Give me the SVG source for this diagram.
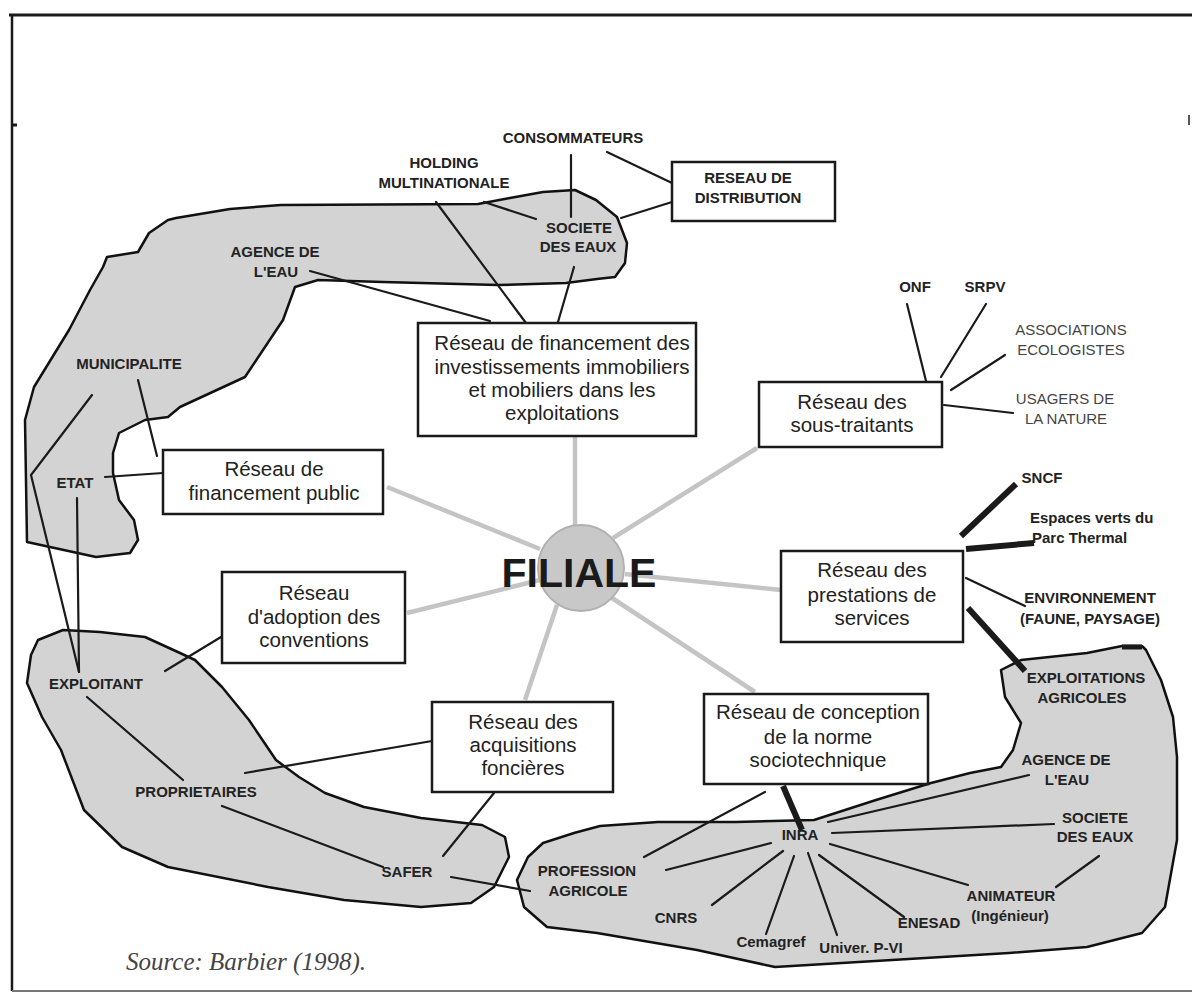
<svg xmlns="http://www.w3.org/2000/svg" width="1192" height="996" viewBox="0 0 1192 996">
<style>
.blob{fill:#d3d3d3;stroke:#111;stroke-width:2.5;stroke-linejoin:round}
.box{fill:#fff;stroke:#1a1a1a;stroke-width:2.5}
.ln{stroke:#1a1a1a;stroke-width:2.2;stroke-linecap:round;fill:none}
.thick{stroke:#1a1a1a;stroke-width:6;fill:none}
.spoke{stroke:#c4c4c4;stroke-width:4.5;fill:none}
.bt{font-family:"Liberation Sans",Arial,sans-serif;font-size:20.5px;fill:#222;text-anchor:middle}
.lb{font-family:"Liberation Sans",Arial,sans-serif;font-size:15px;font-weight:bold;fill:#222;text-anchor:middle}
.ls{font-family:"Liberation Sans",Arial,sans-serif;font-size:15px;font-weight:bold;fill:#222;text-anchor:start}
.lt{font-family:"Liberation Sans",Arial,sans-serif;font-size:15px;fill:#444;text-anchor:middle}
</style>
<rect width="1192" height="996" fill="#fff"/>
<g id="frame" fill="none" stroke="#1a1a1a">
<line x1="9" y1="15" x2="1192" y2="15" stroke-width="3"/>
<line x1="12" y1="15" x2="12" y2="991" stroke-width="2.5"/>
<line x1="12" y1="991" x2="1192" y2="991" stroke="#777" stroke-width="2"/>
<line x1="12" y1="125" x2="17" y2="125" stroke-width="3"/>
<line x1="1189" y1="115" x2="1189" y2="125" stroke="#555" stroke-width="2"/>
</g>
<g id="zones">
<path class="blob" d="M168,220 L176,218 L230,209 L281,205 L478,204 L510,198 L543,192 L575,190 L596,200 L617,217 L627,243 L625,263 L615,277 L597,279 L566,283 L498,285 L383,282 L318,280 L295,287 L283,320 L245,377 L180,407 L168,417 L145,420 L119,433 L113,453 L113,473 L119,500 L134,520 L138,540 L130,553 L96,557 L27,542 L25,420 L34,387 L69,330 L90,290 L103,267 L107,257 L138,252 L149,233 Z"/>
<path class="blob" d="M38,640 L63,630 L100,632 L145,637 L180,653 L195,660 L222,687 L249,720 L276,760 L299,777 L325,793 L364,807 L421,818 L482,825 L505,837 L509,857 L494,887 L471,903 L421,907 L344,900 L268,887 L168,867 L122,847 L84,810 L61,750 L42,717 L27,683 L31,655 Z"/>
<path class="blob" d="M517,880 L528,857 L543,843 L574,833 L600,826 L658,822 L736,822 L814,820 L876,800 L931,783 L970,773 L1001,767 L1013,750 L1021,723 L1005,697 L1001,670 L1021,660 L1087,653 L1122,646 L1142,646 L1146,650 L1161,680 L1173,717 L1177,757 L1177,840 L1165,907 L1142,933 L1087,947 L1009,953 L892,960 L775,967 L697,950 L597,933 L547,927 L524,907 Z"/>
<line x1="1122" y1="647" x2="1142" y2="647" stroke="#1a1a1a" stroke-width="5"/>
</g>
<g id="connectors">
<line class="spoke" x1="575" y1="437" x2="575" y2="527"/>
<line class="spoke" x1="387" y1="487" x2="540" y2="549"/>
<line class="spoke" x1="757" y1="448" x2="613" y2="538"/>
<line class="spoke" x1="625" y1="574" x2="781" y2="590"/>
<line class="spoke" x1="407" y1="613" x2="540" y2="580"/>
<line class="spoke" x1="557" y1="605" x2="525" y2="700"/>
<line class="spoke" x1="612" y1="598" x2="755" y2="692"/>
<line class="ln" x1="571" y1="155" x2="571" y2="217"/>
<line class="ln" x1="607" y1="152" x2="672" y2="183"/>
<line class="ln" x1="621" y1="218" x2="672" y2="202"/>
<line class="ln" x1="484" y1="202" x2="536" y2="219"/>
<line class="ln" x1="436" y1="202" x2="526" y2="323"/>
<line class="ln" x1="574" y1="267" x2="558" y2="322"/>
<line class="ln" x1="310" y1="271" x2="490" y2="321"/>
<line class="ln" x1="907" y1="304" x2="926" y2="381"/>
<line class="ln" x1="986" y1="304" x2="941" y2="377"/>
<line class="ln" x1="951" y1="390" x2="1005" y2="355"/>
<line class="ln" x1="944" y1="405" x2="1013" y2="413"/>
<line class="thick" x1="1016" y1="484" x2="961" y2="536"/>
<line class="thick" x1="966" y1="549" x2="1034" y2="543" stroke-width="5"/>
<line class="ln" x1="966" y1="578" x2="1025" y2="606"/>
<line class="thick" x1="968" y1="608" x2="1025" y2="671"/>
<line class="thick" x1="783" y1="786" x2="802" y2="830" stroke-width="5"/>
<line class="ln" x1="765" y1="792" x2="644" y2="857"/>
<line class="ln" x1="828" y1="822" x2="1029" y2="775"/>
<line class="ln" x1="832" y1="833" x2="1054" y2="824"/>
<line class="ln" x1="830" y1="844" x2="968" y2="885"/>
<line class="ln" x1="1056" y1="887" x2="1099" y2="856"/>
<line class="ln" x1="771" y1="843" x2="666" y2="870"/>
<line class="ln" x1="783" y1="851" x2="712" y2="905"/>
<line class="ln" x1="794" y1="856" x2="766" y2="934"/>
<line class="ln" x1="808" y1="853" x2="837" y2="935"/>
<line class="ln" x1="819" y1="855" x2="904" y2="917"/>
<line class="ln" x1="138" y1="380" x2="157" y2="456"/>
<polyline class="ln" points="92,395 31,475 79,672"/>
<line class="ln" x1="77" y1="498" x2="79" y2="672"/>
<line class="ln" x1="105" y1="477" x2="163" y2="473"/>
<line class="ln" x1="221" y1="637" x2="165" y2="671"/>
<line class="ln" x1="87" y1="697" x2="183" y2="780"/>
<line class="ln" x1="245" y1="773" x2="432" y2="741"/>
<line class="ln" x1="222" y1="806" x2="383" y2="867"/>
<line class="ln" x1="494" y1="793" x2="443" y2="856"/>
<line class="ln" x1="451" y1="877" x2="530" y2="891"/>
</g>
<g id="distribution">
<rect class="box" x="672" y="162" width="163" height="59"/>
<text class="lb" x="748" y="183">RESEAU DE</text>
<text class="lb" x="748" y="203">DISTRIBUTION</text>
</g>
<g id="financement-investissements">
<rect class="box" x="418" y="323" width="278" height="113"/>
<text class="bt" x="562" y="350">Réseau de financement des</text>
<text class="bt" x="562" y="374">investissements immobiliers</text>
<text class="bt" x="562" y="397">et mobiliers dans les</text>
<text class="bt" x="562" y="420">exploitations</text>
</g>
<g id="financement-public">
<rect class="box" x="163" y="450" width="220" height="64"/>
<text class="bt" x="274" y="476">Réseau de</text>
<text class="bt" x="274" y="500">financement public</text>
</g>
<g id="adoption">
<rect class="box" x="222" y="572" width="183" height="91"/>
<text class="bt" x="314" y="600">Réseau</text>
<text class="bt" x="314" y="624">d'adoption des</text>
<text class="bt" x="314" y="647">conventions</text>
</g>
<g id="acquisitions">
<rect class="box" x="432" y="702" width="181" height="90"/>
<text class="bt" x="523" y="729">Réseau des</text>
<text class="bt" x="523" y="752">acquisitions</text>
<text class="bt" x="523" y="775">foncières</text>
</g>
<g id="sous-traitants">
<rect class="box" x="759" y="382" width="183" height="65"/>
<text class="bt" x="852" y="409">Réseau des</text>
<text class="bt" x="852" y="432">sous-traitants</text>
</g>
<g id="prestations">
<rect class="box" x="781" y="551" width="182" height="91"/>
<text class="bt" x="872" y="577">Réseau des</text>
<text class="bt" x="872" y="602">prestations de</text>
<text class="bt" x="872" y="625">services</text>
</g>
<g id="norme">
<rect class="box" x="704" y="694" width="224" height="90"/>
<text class="bt" x="818" y="719">Réseau de conception</text>
<text class="bt" x="818" y="744">de la norme</text>
<text class="bt" x="818" y="767">sociotechnique</text>
</g>
<g id="filiale">
<circle cx="581" cy="568" r="43" fill="#c8c8c8" stroke="#b0b0b0" stroke-width="2"/>
<text x="579" y="587" font-family="'Liberation Sans',Arial,sans-serif" font-size="41" font-weight="bold" fill="#1a1a1a" text-anchor="middle">FILIALE</text>
</g>
<g id="labels">
<text class="lb" x="573" y="143">CONSOMMATEURS</text>
<text class="lb" x="444" y="168">HOLDING</text>
<text class="lb" x="444" y="188">MULTINATIONALE</text>
<text class="lb" x="579" y="233">SOCIETE</text>
<text class="lb" x="578" y="252">DES EAUX</text>
<text class="lb" x="275" y="257">AGENCE DE</text>
<text class="lb" x="276" y="277">L'EAU</text>
<text class="lb" x="129" y="369">MUNICIPALITE</text>
<text class="lb" x="75" y="488">ETAT</text>
<text class="lb" x="96" y="689">EXPLOITANT</text>
<text class="lb" x="196" y="797">PROPRIETAIRES</text>
<text class="lb" x="407" y="877">SAFER</text>
<text class="lb" x="915" y="292">ONF</text>
<text class="lb" x="985" y="292">SRPV</text>
<text class="lt" x="1071" y="335">ASSOCIATIONS</text>
<text class="lt" x="1071" y="355">ECOLOGISTES</text>
<text class="lt" x="1065" y="404">USAGERS DE</text>
<text class="lt" x="1066" y="424">LA NATURE</text>
<text class="lb" x="1042" y="483">SNCF</text>
<text class="ls" x="1030" y="523">Espaces verts du</text>
<text class="ls" x="1032" y="543">Parc Thermal</text>
<text class="lb" x="1090" y="603">ENVIRONNEMENT</text>
<text class="lb" x="1090" y="624">(FAUNE, PAYSAGE)</text>
<text class="lb" x="1086" y="683">EXPLOITATIONS</text>
<text class="lb" x="1082" y="703">AGRICOLES</text>
<text class="lb" x="1066" y="765">AGENCE DE</text>
<text class="lb" x="1067" y="785">L'EAU</text>
<text class="lb" x="1095" y="823">SOCIETE</text>
<text class="lb" x="1095" y="842">DES EAUX</text>
<text class="lb" x="800" y="840">INRA</text>
<text class="lb" x="587" y="876">PROFESSION</text>
<text class="lb" x="588" y="896">AGRICOLE</text>
<text class="lb" x="676" y="923">CNRS</text>
<text class="lb" x="771" y="947">Cemagref</text>
<text class="lb" x="861" y="953">Univer. P-VI</text>
<text class="lb" x="929" y="928">ENESAD</text>
<text class="lb" x="1011" y="901">ANIMATEUR</text>
<text class="lb" x="1010" y="921">(Ingénieur)</text>
</g>
<text x="126" y="970" font-family="'Liberation Serif','Times New Roman',serif" font-style="italic" font-size="25" fill="#444">Source: Barbier (1998).</text>
</svg>
